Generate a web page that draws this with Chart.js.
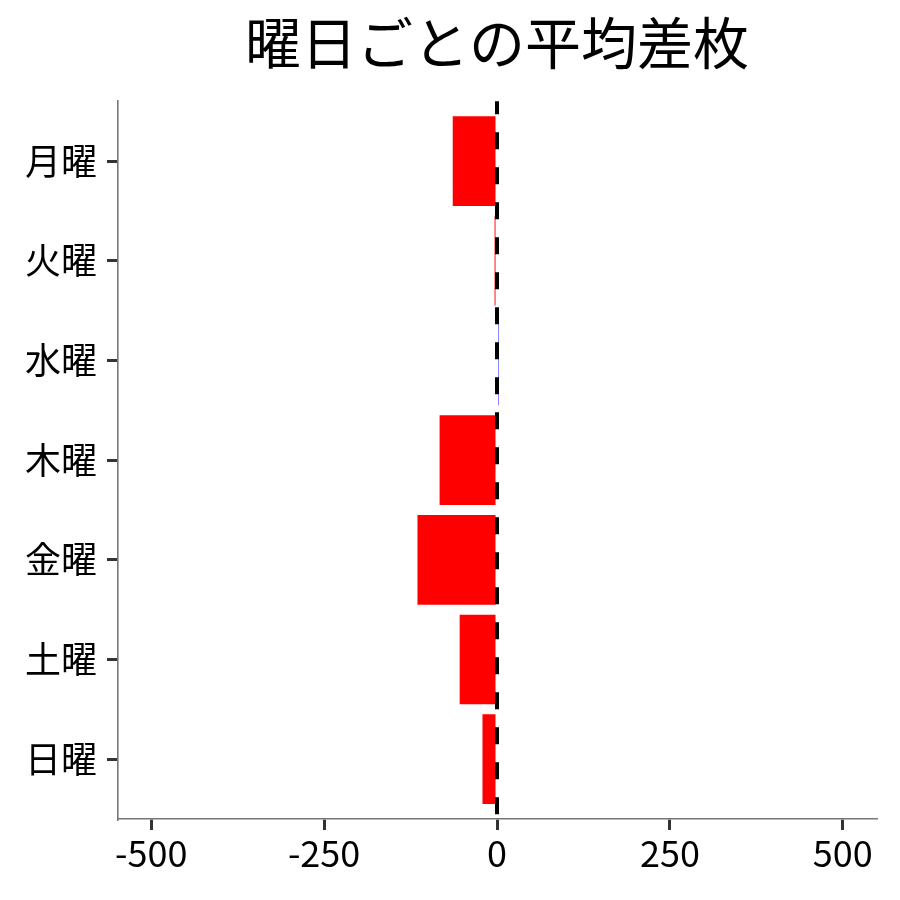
<!DOCTYPE html>
<html lang="ja">
<head>
<meta charset="utf-8">
<title>曜日ごとの平均差枚</title>
<script src="https://cdn.jsdelivr.net/npm/chart.js@4"></script>
<style>
  html, body { margin: 0; padding: 0; background: #fff; }
  #wrap { width: 900px; height: 900px; }
</style>
</head>
<body>
<div id="wrap"><canvas id="chart" width="900" height="900"></canvas></div>
<script>
// 曜日（上から順）
const days = ["月曜", "火曜", "水曜", "木曜", "金曜", "土曜", "日曜"];
// 平均差枚
const avgDiff = [-64, -3.5, 1.5, -83, -115, -54, -21];
// x軸の目盛り
const xTicks = [-500, -250, 0, 250, 500];

const FONT = "'Noto Sans CJK JP', 'Noto Sans', sans-serif";

// 0 の位置に黒い破線を引く
const zeroLine = {
  id: "zeroLine",
  afterDatasetsDraw(chart) {
    const { ctx, chartArea, scales } = chart;
    const x = scales.x.getPixelForValue(0);
    ctx.save();
    ctx.strokeStyle = "#000";
    ctx.lineWidth = 4;
    ctx.setLineDash([17, 18]);
    ctx.lineDashOffset = 4;
    ctx.beginPath();
    ctx.moveTo(x, chartArea.top);
    ctx.lineTo(x, chartArea.bottom);
    ctx.stroke();
    ctx.restore();
  },
};

new Chart(document.getElementById("chart"), {
  type: "bar",
  data: {
    datasets: [
      {
        data: avgDiff.map((v, i) => ({ x: v, y: i + 1 })),
        backgroundColor: avgDiff.map((v) => (v < 0 ? "#ff0000" : "#0000ff")),
        borderWidth: 0,
        barPercentage: 0.9,
        categoryPercentage: 1.0,
      },
    ],
  },
  options: {
    indexAxis: "y",
    responsive: false,
    animation: false,
    layout: { padding: { left: 0, right: 24, top: 0, bottom: 0 } },
    plugins: {
      legend: { display: false },
      tooltip: { enabled: false },
      title: {
        display: true,
        text: "曜日ごとの平均差枚",
        fullSize: false,
        color: "#000",
        font: { family: FONT, size: 56, weight: "normal" },
        padding: { top: 9, bottom: 25 },
      },
    },
    scales: {
      x: {
        type: "linear",
        min: -548,
        max: 548,
        afterBuildTicks: (scale) => {
          scale.ticks = xTicks.map((v) => ({ value: v }));
        },
        afterFit: (scale) => {
          scale.height = 81;
        },
        border: { display: true, color: "#777", width: 1.6 },
        grid: {
          drawOnChartArea: false,
          lineWidth: 3,
          tickLength: 11,
          tickWidth: 3,
          tickColor: "#333",
        },
        ticks: {
          color: "#000",
          padding: 2,
          maxRotation: 0,
          font: { family: FONT, size: 36 },
        },
      },
      y: {
        type: "linear",
        reverse: true,
        offset: false,
        min: 0.4,
        max: 7.6,
        afterBuildTicks: (scale) => {
          scale.ticks = days.map((_, i) => ({ value: i + 1 }));
        },
        afterFit: (scale) => {
          scale.width = 118;
        },
        border: { display: true, color: "#777", width: 1.6 },
        grid: {
          offset: false,
          drawOnChartArea: false,
          lineWidth: 3,
          tickLength: 11,
          tickWidth: 3,
          tickColor: "#333",
        },
        ticks: {
          color: "#000",
          padding: 10,
          font: { family: FONT, size: 36 },
          callback: (v) => days[v - 1],
        },
      },
    },
  },
  plugins: [zeroLine],
});
</script>
</body>
</html>
